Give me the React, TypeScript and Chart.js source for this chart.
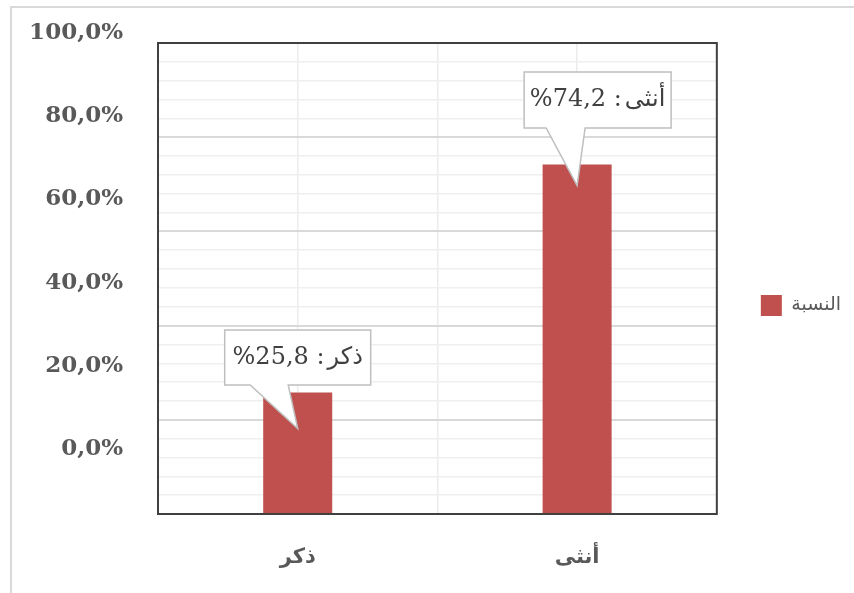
import React, { useEffect, useRef } from 'react';
import { Chart, registerables } from 'chart.js';

Chart.register(...registerables);

// ---- data ----
const categories = ['ذكر', 'أنثى'];
const seriesName = 'النسبة';
const values = [25.8, 74.2];
const yTickValues = [0, 20, 40, 60, 80, 100];

// ---- styling / layout constants ----
const FONT = "'DejaVu Serif', 'DejaVu Sans', serif";
const TEXT_COLOR = '#595959';
const BAR_COLOR = '#C0504D';

// callout geometry relative to the bar's top-center
const CALLOUTS = [
  { dx: 0, gap: 7.5, w: 146, h: 55, baseL: -47.5, baseR: -9.5, tipDx: 0, tipDy: 36 },
  { dx: 20.5, gap: 36.5, w: 147, h: 56, baseL: -31, baseR: 8, tipDx: 0, tipDy: 21 },
];

const fmt = (v: number) => v.toFixed(1).replace('.', ',');

const framePlugin = {
  id: 'frame',
  beforeDraw(chart: any) {
    const ctx = chart.ctx;
    ctx.save();
    ctx.fillStyle = '#ffffff';
    ctx.fillRect(0, 0, chart.width, chart.height);
    ctx.strokeStyle = '#d9d9d9';
    ctx.lineWidth = 2;
    ctx.strokeRect(11, 7, chart.width + 50, chart.height + 50);
    ctx.restore();
  },
  afterDatasetsDraw(chart: any) {
    const ctx = chart.ctx;
    const a = chart.chartArea;
    ctx.save();
    ctx.strokeStyle = '#404040';
    ctx.lineWidth = 2;
    ctx.strokeRect(a.left, a.top, a.right - a.left, a.bottom - a.top);
    ctx.restore();

    const meta = chart.getDatasetMeta(0);
    meta.data.forEach((bar: any, i: number) => {
      const c = CALLOUTS[i];
      if (!c) return;
      const cx = bar.x + c.dx;
      const bottom = bar.y - c.gap;
      const top = bottom - c.h;
      const left = cx - c.w / 2;
      const right = cx + c.w / 2;
      ctx.save();
      ctx.beginPath();
      ctx.moveTo(left, top);
      ctx.lineTo(right, top);
      ctx.lineTo(right, bottom);
      ctx.lineTo(bar.x + c.baseR, bottom);
      ctx.lineTo(bar.x + c.tipDx, bar.y + c.tipDy);
      ctx.lineTo(bar.x + c.baseL, bottom);
      ctx.lineTo(left, bottom);
      ctx.closePath();
      ctx.fillStyle = '#ffffff';
      ctx.fill();
      ctx.strokeStyle = '#bfbfbf';
      ctx.lineWidth = 1.5;
      ctx.stroke();

      // label text, laid out right-to-left: "<category> : %<value>"
      ctx.fillStyle = '#404040';
      ctx.font = `24px ${FONT}`;
      ctx.textBaseline = 'middle';
      (ctx as any).direction = 'ltr';
      const numPart = `%${fmt(values[i])} :`;
      const word = categories[i];
      const gap = 3;
      const w1 = ctx.measureText(numPart).width;
      const w2 = ctx.measureText(word).width;
      const total = w1 + gap + w2;
      const x0 = cx - total / 2;
      const ty = (top + bottom) / 2;
      ctx.textAlign = 'left';
      ctx.fillText(numPart, x0, ty);
      ctx.fillText(word, x0 + w1 + gap, ty);
      ctx.restore();
    });
  },
};

const isMajor = (v: number) => Math.abs(v / 20 - Math.round(v / 20)) < 1e-6;

export default function App() {
  const ref = useRef<HTMLCanvasElement | null>(null);
  useEffect(() => {
    if (!ref.current) return;
    const chart = new Chart(ref.current, {
      type: 'bar',
      data: {
        labels: categories,
        datasets: [
          {
            label: seriesName,
            data: values,
            backgroundColor: BAR_COLOR,
            borderWidth: 0,
            barPercentage: 0.247,
            categoryPercentage: 1,
            xAxisID: 'x',
            yAxisID: 'y',
          },
        ],
      },
      options: {
        responsive: false,
        animation: false,
        devicePixelRatio: 1,
        layout: { padding: { left: 10, right: 3, top: 43, bottom: 25 } },
        plugins: {
          legend: {
            position: 'right',
            labels: {
              boxWidth: 21,
              boxHeight: 21,
              padding: 44,
              color: TEXT_COLOR,
              font: { family: FONT, size: 19 },
            },
          },
          tooltip: { enabled: false },
        },
        scales: {
          x: {
            type: 'category',
            offset: true,
            grid: { display: false, drawTicks: false },
            border: { display: false },
            afterFit: (s: any) => {
              s.height = 54;
              s.paddingLeft = 0;
              s.paddingRight = 0;
            },
            ticks: {
              color: TEXT_COLOR,
              font: { family: FONT, size: 21, weight: 'bold' },
              padding: 31,
              maxRotation: 0,
            },
          },
          xg: {
            type: 'linear',
            position: 'bottom',
            min: 0,
            max: 4,
            offset: false,
            ticks: { display: false, stepSize: 1 },
            grid: { color: '#ececec', lineWidth: 1.5, drawTicks: false, offset: false },
            border: { display: false },
          },
          y: {
            min: 0,
            max: 100,
            ticks: { display: false, stepSize: 4 },
            grid: {
              drawTicks: false,
              color: (c: any) => (isMajor(c.tick.value) ? '#d9d9d9' : '#efefef'),
              lineWidth: (c: any) => (isMajor(c.tick.value) ? 2 : 1.5),
            },
            border: { display: false },
          },
          yl: {
            type: 'linear',
            position: 'left',
            min: -15.63,
            max: 97.59,
            afterBuildTicks: (s: any) => {
              s.ticks = yTickValues.map((v) => ({ value: v }));
            },
            afterFit: (s: any) => {
              s.width = 148;
              s.paddingTop = 0;
              s.paddingBottom = 0;
            },
            ticks: {
              autoSkip: false,
              color: TEXT_COLOR,
              padding: 35,
              font: { family: FONT, size: 23, weight: 'bold' },
              callback: (v: any) => `${fmt(Number(v))}%`,
            },
            grid: { display: false, drawTicks: false },
            border: { display: false },
          },
        },
      },
      plugins: [framePlugin],
    } as any);
    return () => chart.destroy();
  }, []);
  return (
    <div style={{ position: 'fixed', left: 0, top: 0, width: 854, height: 593, background: '#fff' }}>
      <canvas ref={ref} width={854} height={593} />
    </div>
  );
}
